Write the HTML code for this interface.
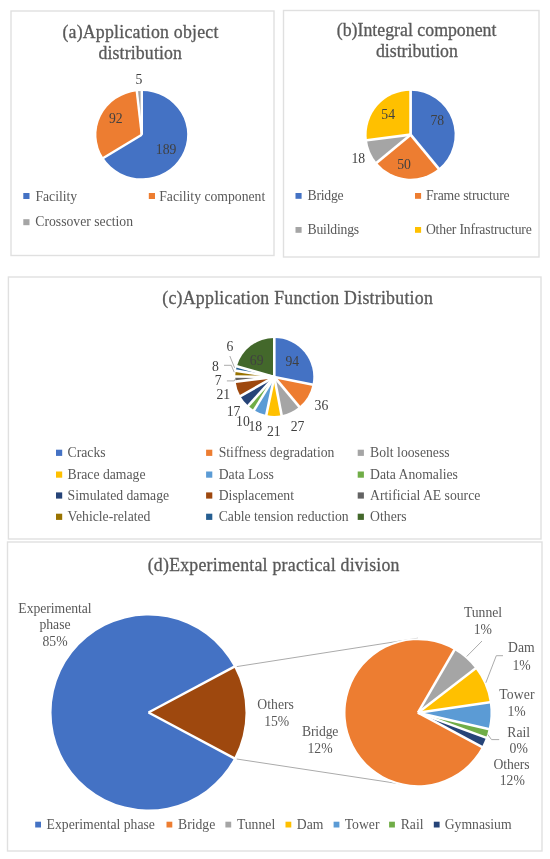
<!DOCTYPE html>
<html><head><meta charset="utf-8"><style>
html,body{margin:0;padding:0;background:#fff;}
svg{display:block;filter:blur(0.35px);}
text{font-family:"Liberation Serif",serif;}
</style></head><body>
<svg width="550" height="859" viewBox="0 0 550 859">
<rect width="550" height="859" fill="#fff"/>
<rect x="11" y="11" width="263" height="244.5" fill="none" stroke="#e0e0e0" stroke-width="1.4"/>
<rect x="283.5" y="10.5" width="255.5" height="246.5" fill="none" stroke="#e0e0e0" stroke-width="1.4"/>
<rect x="8.4" y="277" width="532.6" height="262" fill="none" stroke="#e0e0e0" stroke-width="1.4"/>
<rect x="7.5" y="542" width="534.5" height="309" fill="none" stroke="#e0e0e0" stroke-width="1.4"/>
<text x="62.4" y="38" font-size="17.8" fill="#595959" stroke="#595959" stroke-width="0.3" text-anchor="start" textLength="156" lengthAdjust="spacing">(a)Application object</text>
<text x="98.4" y="59" font-size="17.8" fill="#595959" stroke="#595959" stroke-width="0.3" text-anchor="start" textLength="83.6" lengthAdjust="spacing">distribution</text>
<path d="M141.80,134.70 L141.80,91.10 A45.40,43.60 0 1 1 103.34,157.87 Z" fill="#4472C4"/>
<path d="M141.80,134.70 L103.34,157.87 A45.40,43.60 0 0 1 136.82,91.36 Z" fill="#ED7D31"/>
<path d="M141.80,134.70 L136.82,91.36 A45.40,43.60 0 0 1 141.80,91.10 Z" fill="#A5A5A5"/>
<line x1="141.80" y1="134.70" x2="141.80" y2="89.10" stroke="#fff" stroke-width="2.4"/>
<line x1="141.80" y1="134.70" x2="101.65" y2="158.93" stroke="#fff" stroke-width="2.4"/>
<line x1="141.80" y1="134.70" x2="136.60" y2="89.37" stroke="#fff" stroke-width="2.4"/>
<text x="138.9" y="83.8" font-size="13.7" fill="#404040" stroke="#404040" stroke-width="0.0" text-anchor="middle">5</text>
<text x="115.8" y="122.8" font-size="13.7" fill="#404040" stroke="#404040" stroke-width="0.0" text-anchor="middle">92</text>
<text x="166.1" y="154.3" font-size="13.7" fill="#404040" stroke="#404040" stroke-width="0.0" text-anchor="middle">189</text>
<rect x="23.3" y="193" width="6.2" height="6" fill="#4472C4"/>
<text x="35.4" y="200.5" font-size="13.7" fill="#595959" stroke="#595959" stroke-width="0.0" text-anchor="start">Facility</text>
<rect x="148.8" y="193" width="6.2" height="6" fill="#ED7D31"/>
<text x="159.2" y="200.5" font-size="13.7" fill="#595959" stroke="#595959" stroke-width="0.0" text-anchor="start">Facility component</text>
<rect x="23.3" y="219.2" width="6.2" height="6" fill="#A5A5A5"/>
<text x="35.3" y="226.2" font-size="13.7" fill="#595959" stroke="#595959" stroke-width="0.0" text-anchor="start">Crossover section</text>
<text x="336.8" y="35.5" font-size="17.8" fill="#595959" stroke="#595959" stroke-width="0.3" text-anchor="start" textLength="159.6" lengthAdjust="spacing">(b)Integral component</text>
<text x="375.9" y="56.6" font-size="17.8" fill="#595959" stroke="#595959" stroke-width="0.3" text-anchor="start" textLength="82" lengthAdjust="spacing">distribution</text>
<path d="M410.60,134.70 L410.60,90.70 A44.00,44.00 0 0 1 438.65,168.60 Z" fill="#4472C4"/>
<path d="M410.60,134.70 L438.65,168.60 A44.00,44.00 0 0 1 376.70,162.75 Z" fill="#ED7D31"/>
<path d="M410.60,134.70 L376.70,162.75 A44.00,44.00 0 0 1 366.95,140.21 Z" fill="#A5A5A5"/>
<path d="M410.60,134.70 L366.95,140.21 A44.00,44.00 0 0 1 410.60,90.70 Z" fill="#FFC000"/>
<line x1="410.60" y1="134.70" x2="410.60" y2="88.70" stroke="#fff" stroke-width="2.7"/>
<line x1="410.60" y1="134.70" x2="439.92" y2="170.14" stroke="#fff" stroke-width="2.7"/>
<line x1="410.60" y1="134.70" x2="375.16" y2="164.02" stroke="#fff" stroke-width="2.7"/>
<line x1="410.60" y1="134.70" x2="364.96" y2="140.47" stroke="#fff" stroke-width="2.7"/>
<text x="437.3" y="125" font-size="13.7" fill="#404040" stroke="#404040" stroke-width="0.0" text-anchor="middle">78</text>
<text x="388.2" y="118.6" font-size="13.7" fill="#404040" stroke="#404040" stroke-width="0.0" text-anchor="middle">54</text>
<text x="404.1" y="169.3" font-size="13.7" fill="#404040" stroke="#404040" stroke-width="0.0" text-anchor="middle">50</text>
<text x="358.3" y="163" font-size="13.7" fill="#404040" stroke="#404040" stroke-width="0.0" text-anchor="middle">18</text>
<rect x="295.5" y="193" width="6.1" height="5.8" fill="#4472C4"/>
<text x="307.5" y="200" font-size="13.7" fill="#595959" stroke="#595959" stroke-width="0.0" text-anchor="start" textLength="36.17" lengthAdjust="spacing">Bridge</text>
<rect x="415" y="193" width="6.1" height="5.8" fill="#ED7D31"/>
<text x="425.9" y="200" font-size="13.7" fill="#595959" stroke="#595959" stroke-width="0.0" text-anchor="start" textLength="83.76" lengthAdjust="spacing">Frame structure</text>
<rect x="295.5" y="227" width="6.1" height="5.8" fill="#A5A5A5"/>
<text x="307.5" y="234" font-size="13.7" fill="#595959" stroke="#595959" stroke-width="0.0" text-anchor="start" textLength="51.69" lengthAdjust="spacing">Buildings</text>
<rect x="415" y="227" width="6.1" height="5.8" fill="#FFC000"/>
<text x="425.9" y="234" font-size="13.7" fill="#595959" stroke="#595959" stroke-width="0.0" text-anchor="start" textLength="105.89" lengthAdjust="spacing">Other Infrastructure</text>
<text x="162.3" y="303.8" font-size="17.8" fill="#595959" stroke="#595959" stroke-width="0.3" text-anchor="start" textLength="270.5" lengthAdjust="spacing">(c)Application Function Distribution</text>
<path d="M274.30,376.90 L274.30,337.90 A39.00,39.00 0 0 1 312.54,384.55 Z" fill="#4472C4"/>
<path d="M274.30,376.90 L312.54,384.55 A39.00,39.00 0 0 1 299.31,406.83 Z" fill="#ED7D31"/>
<path d="M274.30,376.90 L299.31,406.83 A39.00,39.00 0 0 1 281.59,415.21 Z" fill="#A5A5A5"/>
<path d="M274.30,376.90 L281.59,415.21 A39.00,39.00 0 0 1 266.29,415.07 Z" fill="#FFC000"/>
<path d="M274.30,376.90 L266.29,415.07 A39.00,39.00 0 0 1 254.06,410.24 Z" fill="#5B9BD5"/>
<path d="M274.30,376.90 L254.06,410.24 A39.00,39.00 0 0 1 248.19,405.87 Z" fill="#70AD47"/>
<path d="M274.30,376.90 L248.19,405.87 A39.00,39.00 0 0 1 240.40,396.19 Z" fill="#264478"/>
<path d="M274.30,376.90 L240.40,396.19 A39.00,39.00 0 0 1 235.59,381.66 Z" fill="#9E480E"/>
<path d="M274.30,376.90 L235.59,381.66 A39.00,39.00 0 0 1 235.30,376.53 Z" fill="#636363"/>
<path d="M274.30,376.90 L235.30,376.53 A39.00,39.00 0 0 1 235.80,370.69 Z" fill="#997300"/>
<path d="M274.30,376.90 L235.80,370.69 A39.00,39.00 0 0 1 236.74,366.39 Z" fill="#255E91"/>
<path d="M274.30,376.90 L236.74,366.39 A39.00,39.00 0 0 1 274.30,337.90 Z" fill="#43682B"/>
<line x1="274.30" y1="376.90" x2="274.30" y2="335.90" stroke="#fff" stroke-width="2.6"/>
<line x1="274.30" y1="376.90" x2="314.50" y2="384.95" stroke="#fff" stroke-width="2.6"/>
<line x1="274.30" y1="376.90" x2="300.59" y2="408.36" stroke="#fff" stroke-width="2.6"/>
<line x1="274.30" y1="376.90" x2="281.97" y2="417.18" stroke="#fff" stroke-width="2.6"/>
<line x1="274.30" y1="376.90" x2="265.88" y2="417.03" stroke="#fff" stroke-width="2.6"/>
<line x1="274.30" y1="376.90" x2="253.03" y2="411.95" stroke="#fff" stroke-width="2.6"/>
<line x1="274.30" y1="376.90" x2="246.85" y2="407.35" stroke="#fff" stroke-width="2.6"/>
<line x1="274.30" y1="376.90" x2="238.67" y2="397.18" stroke="#fff" stroke-width="2.6"/>
<line x1="274.30" y1="376.90" x2="233.61" y2="381.90" stroke="#fff" stroke-width="2.6"/>
<line x1="274.30" y1="376.90" x2="233.30" y2="376.51" stroke="#fff" stroke-width="2.6"/>
<line x1="274.30" y1="376.90" x2="233.82" y2="370.37" stroke="#fff" stroke-width="2.6"/>
<line x1="274.30" y1="376.90" x2="234.82" y2="365.85" stroke="#fff" stroke-width="2.6"/>
<text x="292.3" y="365.5" font-size="13.7" fill="#404040" stroke="#404040" stroke-width="0.0" text-anchor="middle">94</text>
<text x="256.7" y="364.5" font-size="13.7" fill="#404040" stroke="#404040" stroke-width="0.0" text-anchor="middle">69</text>
<text x="321.4" y="409.59999999999997" font-size="13.7" fill="#404040" stroke="#404040" stroke-width="0.0" text-anchor="middle">36</text>
<text x="297.5" y="430.7" font-size="13.7" fill="#404040" stroke="#404040" stroke-width="0.0" text-anchor="middle">27</text>
<text x="273.8" y="435.8" font-size="13.7" fill="#404040" stroke="#404040" stroke-width="0.0" text-anchor="middle">21</text>
<text x="255.3" y="431.4" font-size="13.7" fill="#404040" stroke="#404040" stroke-width="0.0" text-anchor="middle">18</text>
<text x="242.9" y="425.59999999999997" font-size="13.7" fill="#404040" stroke="#404040" stroke-width="0.0" text-anchor="middle">10</text>
<text x="233.5" y="416.2" font-size="13.7" fill="#404040" stroke="#404040" stroke-width="0.0" text-anchor="middle">17</text>
<text x="223.3" y="399.4" font-size="13.7" fill="#404040" stroke="#404040" stroke-width="0.0" text-anchor="middle">21</text>
<text x="218.2" y="385.3" font-size="13.7" fill="#404040" stroke="#404040" stroke-width="0.0" text-anchor="middle">7</text>
<text x="215.3" y="370.8" font-size="13.7" fill="#404040" stroke="#404040" stroke-width="0.0" text-anchor="middle">8</text>
<text x="229.8" y="351.0" font-size="13.7" fill="#404040" stroke="#404040" stroke-width="0.0" text-anchor="middle">6</text>
<polyline points="229.8,356 234.6,367.8" fill="none" stroke="#A6A6A6" stroke-width="0.95"/>
<polyline points="224,365.3 231.3,365.3 234.2,372.2" fill="none" stroke="#A6A6A6" stroke-width="0.95"/>
<polyline points="226.9,380.9 234.2,380.9 235.6,378.7" fill="none" stroke="#A6A6A6" stroke-width="0.95"/>
<rect x="56" y="449.7" width="6.2" height="6.2" fill="#4472C4"/>
<text x="67.6" y="456.9" font-size="13.7" fill="#595959" stroke="#595959" stroke-width="0.0" text-anchor="start">Cracks</text>
<rect x="206.1" y="449.7" width="6.2" height="6.2" fill="#ED7D31"/>
<text x="218.7" y="456.9" font-size="13.7" fill="#595959" stroke="#595959" stroke-width="0.0" text-anchor="start">Stiffness degradation</text>
<rect x="357.7" y="449.7" width="6.2" height="6.2" fill="#A5A5A5"/>
<text x="370.1" y="456.9" font-size="13.7" fill="#595959" stroke="#595959" stroke-width="0.0" text-anchor="start">Bolt looseness</text>
<rect x="56" y="471.5" width="6.2" height="6.2" fill="#FFC000"/>
<text x="67.6" y="478.7" font-size="13.7" fill="#595959" stroke="#595959" stroke-width="0.0" text-anchor="start">Brace damage</text>
<rect x="206.1" y="471.5" width="6.2" height="6.2" fill="#5B9BD5"/>
<text x="218.7" y="478.7" font-size="13.7" fill="#595959" stroke="#595959" stroke-width="0.0" text-anchor="start">Data Loss</text>
<rect x="357.7" y="471.5" width="6.2" height="6.2" fill="#70AD47"/>
<text x="370.1" y="478.7" font-size="13.7" fill="#595959" stroke="#595959" stroke-width="0.0" text-anchor="start">Data Anomalies</text>
<rect x="56" y="492.40000000000003" width="6.2" height="6.2" fill="#264478"/>
<text x="67.6" y="499.6" font-size="13.7" fill="#595959" stroke="#595959" stroke-width="0.0" text-anchor="start">Simulated damage</text>
<rect x="206.1" y="492.40000000000003" width="6.2" height="6.2" fill="#9E480E"/>
<text x="218.7" y="499.6" font-size="13.7" fill="#595959" stroke="#595959" stroke-width="0.0" text-anchor="start">Displacement</text>
<rect x="357.7" y="492.40000000000003" width="6.2" height="6.2" fill="#636363"/>
<text x="370.1" y="499.6" font-size="13.7" fill="#595959" stroke="#595959" stroke-width="0.0" text-anchor="start">Artificial AE source</text>
<rect x="56" y="513.6999999999999" width="6.2" height="6.2" fill="#997300"/>
<text x="67.6" y="520.9" font-size="13.7" fill="#595959" stroke="#595959" stroke-width="0.0" text-anchor="start">Vehicle-related</text>
<rect x="206.1" y="513.6999999999999" width="6.2" height="6.2" fill="#255E91"/>
<text x="218.7" y="520.9" font-size="13.7" fill="#595959" stroke="#595959" stroke-width="0.0" text-anchor="start">Cable tension reduction</text>
<rect x="357.7" y="513.6999999999999" width="6.2" height="6.2" fill="#43682B"/>
<text x="370.1" y="520.9" font-size="13.7" fill="#595959" stroke="#595959" stroke-width="0.0" text-anchor="start">Others</text>
<text x="147.7" y="571.3" font-size="17.8" fill="#595959" stroke="#595959" stroke-width="0.3" text-anchor="start" textLength="251.8" lengthAdjust="spacing">(d)Experimental practical division</text>
<line x1="236.7" y1="666.6" x2="418" y2="638.2" stroke="#ABABAB" stroke-width="1"/>
<line x1="236.7" y1="759" x2="418" y2="786.6" stroke="#ABABAB" stroke-width="1"/>
<circle cx="148.5" cy="712.5" r="99" fill="#fff"/>
<path d="M148.50,712.50 L234.07,758.19 A97.00,97.00 0 1 1 234.07,666.81 Z" fill="#4472C4"/>
<path d="M148.50,712.50 L234.07,666.81 A97.00,97.00 0 0 1 234.07,758.19 Z" fill="#9E480E"/>
<line x1="148.50" y1="712.50" x2="235.83" y2="759.13" stroke="#fff" stroke-width="2.5"/>
<line x1="148.50" y1="712.50" x2="235.83" y2="665.87" stroke="#fff" stroke-width="2.5"/>
<circle cx="418" cy="712.7" r="74.5" fill="#fff"/>
<path d="M418.00,712.70 L454.36,649.98 A72.50,72.50 0 0 1 475.44,668.46 Z" fill="#A5A5A5"/>
<path d="M418.00,712.70 L475.44,668.46 A72.50,72.50 0 0 1 489.74,702.23 Z" fill="#FFC000"/>
<path d="M418.00,712.70 L489.74,702.23 A72.50,72.50 0 0 1 488.61,729.13 Z" fill="#5B9BD5"/>
<path d="M418.00,712.70 L488.61,729.13 A72.50,72.50 0 0 1 486.08,737.62 Z" fill="#70AD47"/>
<path d="M418.00,712.70 L486.08,737.62 A72.50,72.50 0 0 1 481.89,746.96 Z" fill="#264478"/>
<path d="M418.00,712.70 L481.89,746.96 A72.50,72.50 0 1 1 454.36,649.98 Z" fill="#ED7D31"/>
<line x1="418.00" y1="712.70" x2="455.36" y2="648.25" stroke="#fff" stroke-width="2.5"/>
<line x1="418.00" y1="712.70" x2="477.03" y2="667.24" stroke="#fff" stroke-width="2.5"/>
<line x1="418.00" y1="712.70" x2="491.72" y2="701.95" stroke="#fff" stroke-width="2.5"/>
<line x1="418.00" y1="712.70" x2="490.56" y2="729.59" stroke="#fff" stroke-width="2.5"/>
<line x1="418.00" y1="712.70" x2="487.96" y2="738.30" stroke="#fff" stroke-width="2.5"/>
<line x1="418.00" y1="712.70" x2="483.66" y2="747.91" stroke="#fff" stroke-width="2.5"/>
<text x="55" y="612.6" font-size="13.7" fill="#595959" stroke="#595959" stroke-width="0.0" text-anchor="middle" textLength="73.3" lengthAdjust="spacing">Experimental</text>
<text x="55" y="629.3" font-size="13.7" fill="#595959" stroke="#595959" stroke-width="0.0" text-anchor="middle">phase</text>
<text x="55" y="645.5" font-size="13.7" fill="#595959" stroke="#595959" stroke-width="0.0" text-anchor="middle">85%</text>
<text x="275.6" y="709.4" font-size="13.7" fill="#595959" stroke="#595959" stroke-width="0.0" text-anchor="middle" textLength="36.5" lengthAdjust="spacing">Others</text>
<text x="276.7" y="725.8" font-size="13.7" fill="#595959" stroke="#595959" stroke-width="0.0" text-anchor="middle">15%</text>
<text x="320.2" y="735.6" font-size="13.7" fill="#595959" stroke="#595959" stroke-width="0.0" text-anchor="middle" textLength="36.4" lengthAdjust="spacing">Bridge</text>
<text x="320" y="752.5" font-size="13.7" fill="#595959" stroke="#595959" stroke-width="0.0" text-anchor="middle">12%</text>
<text x="483" y="617" font-size="13.7" fill="#595959" stroke="#595959" stroke-width="0.0" text-anchor="middle" textLength="38" lengthAdjust="spacing">Tunnel</text>
<text x="482.8" y="634.4" font-size="13.7" fill="#595959" stroke="#595959" stroke-width="0.0" text-anchor="middle">1%</text>
<text x="521.4" y="652.3" font-size="13.7" fill="#595959" stroke="#595959" stroke-width="0.0" text-anchor="middle">Dam</text>
<text x="521.6" y="669.5" font-size="13.7" fill="#595959" stroke="#595959" stroke-width="0.0" text-anchor="middle">1%</text>
<text x="516.8" y="698.5" font-size="13.7" fill="#595959" stroke="#595959" stroke-width="0.0" text-anchor="middle" textLength="35.3" lengthAdjust="spacing">Tower</text>
<text x="516.6" y="715.6" font-size="13.7" fill="#595959" stroke="#595959" stroke-width="0.0" text-anchor="middle">1%</text>
<text x="518.7" y="736.8" font-size="13.7" fill="#595959" stroke="#595959" stroke-width="0.0" text-anchor="middle">Rail</text>
<text x="518.7" y="753" font-size="13.7" fill="#595959" stroke="#595959" stroke-width="0.0" text-anchor="middle">0%</text>
<text x="511.6" y="768.8" font-size="13.7" fill="#595959" stroke="#595959" stroke-width="0.0" text-anchor="middle" textLength="36.2" lengthAdjust="spacing">Others</text>
<text x="512.3" y="785.3" font-size="13.7" fill="#595959" stroke="#595959" stroke-width="0.0" text-anchor="middle">12%</text>
<polyline points="482,641 466.7,656.5" fill="none" stroke="#A6A6A6" stroke-width="0.95"/>
<polyline points="503,655.7 496.3,655.7 485.8,682.8" fill="none" stroke="#A6A6A6" stroke-width="0.95"/>
<polyline points="487.7,734.4 491.5,739.6 499.2,739.6" fill="none" stroke="#A6A6A6" stroke-width="0.95"/>
<rect x="35.2" y="821.7" width="5.8" height="5.8" fill="#4472C4"/>
<text x="46.6" y="828.5" font-size="13.7" fill="#595959" stroke="#595959" stroke-width="0.0" text-anchor="start">Experimental phase</text>
<rect x="166.5" y="821.7" width="5.8" height="5.8" fill="#ED7D31"/>
<text x="178" y="828.5" font-size="13.7" fill="#595959" stroke="#595959" stroke-width="0.0" text-anchor="start">Bridge</text>
<rect x="225.4" y="821.7" width="5.8" height="5.8" fill="#A5A5A5"/>
<text x="236.9" y="828.5" font-size="13.7" fill="#595959" stroke="#595959" stroke-width="0.0" text-anchor="start">Tunnel</text>
<rect x="285.5" y="821.7" width="5.8" height="5.8" fill="#FFC000"/>
<text x="296.8" y="828.5" font-size="13.7" fill="#595959" stroke="#595959" stroke-width="0.0" text-anchor="start">Dam</text>
<rect x="333.6" y="821.7" width="5.8" height="5.8" fill="#5B9BD5"/>
<text x="344.7" y="828.5" font-size="13.7" fill="#595959" stroke="#595959" stroke-width="0.0" text-anchor="start">Tower</text>
<rect x="389.1" y="821.7" width="5.8" height="5.8" fill="#70AD47"/>
<text x="400.7" y="828.5" font-size="13.7" fill="#595959" stroke="#595959" stroke-width="0.0" text-anchor="start">Rail</text>
<rect x="433.8" y="821.7" width="5.8" height="5.8" fill="#264478"/>
<text x="444.7" y="828.5" font-size="13.7" fill="#595959" stroke="#595959" stroke-width="0.0" text-anchor="start">Gymnasium</text>
</svg></body></html>
